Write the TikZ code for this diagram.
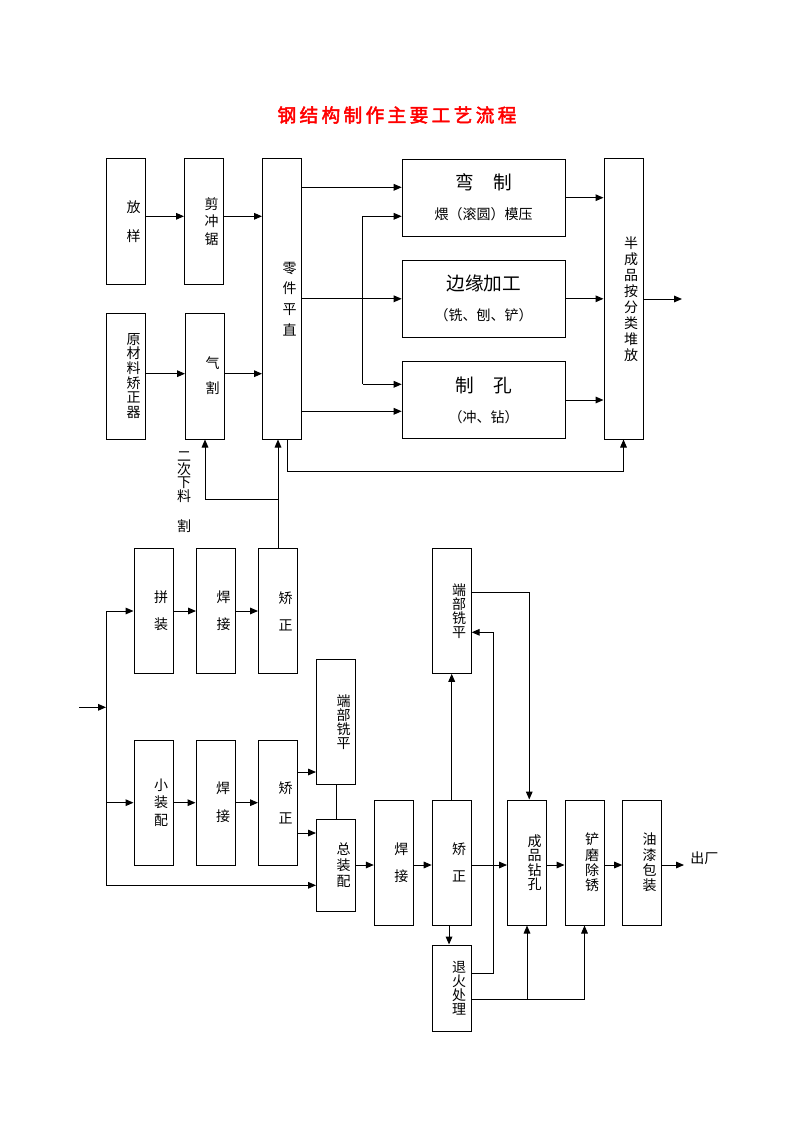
\documentclass[tikz,border=0pt]{standalone}
\usepackage{fontspec}
\usepackage{xcolor}
\usepackage{tikz}
\usetikzlibrary{calc,arrows.meta}
\newfontfamily\cjk{Noto Sans CJK SC}
\newfontfamily\cjktitle[LetterSpace=18, FakeBold=2.5]{Noto Sans CJK SC}
\definecolor{titlered}{HTML}{FF0000}
\definecolor{ink}{HTML}{000000}

\begin{document}
\begin{tikzpicture}[x=0.75pt, y=-0.75pt,
  col/.style={draw=ink, line width=0.75pt, inner xsep=3.75pt, inner ysep=0pt,
    text width=21.75pt, align=right, font=\cjk\fontsize{10.5}{#1}\selectfont},
  col/.default=10.5pt,
  tall/.style={minimum height=#1*0.75pt},
  wide/.style={draw=ink, line width=0.75pt, minimum width=122.25pt, minimum height=57.75pt,
    inner sep=0pt, align=center, font=\cjk\fontsize{14}{16}\selectfont},
  wire/.style={draw=ink, line width=0.75pt},
  arr/.style={wire, -{Triangle[length=6pt,width=5pt]}}]
\useasboundingbox (0,0) rectangle (794,1123);

\node[font=\cjktitle\fontsize{14}{16}\selectfont, text=titlered] (title) at (397,115) {钢结构制作主要工艺流程};

% upper part
\node[col=21.75pt, tall=125] (fangyang) at (126,221.5) {放\\样};
\node[col=13.1pt, tall=125] (jianchong) at (204,221.5) {剪\\冲\\锯};
\node[col=15.5pt, tall=280] (lingjian) at (282,299) {零\\件\\平\\直};
\node[col=11pt, tall=126] (yuancai) at (126,376) {原\\材\\料\\矫\\正\\器};
\node[col=18.75pt, tall=126] (qige) at (205,376) {气\\割};
\node[wide] (wanzhi) at (483.7,197.7) {弯　制\\[6.5pt]{\fontsize{10.5}{16}\selectfont 煨（滚圆）模压}};
\node[wide] (bianyuan) at (483.7,298.8) {边缘加工\\[6.5pt]{\fontsize{10.5}{16}\selectfont （铣、刨、铲）}};
\node[wide] (zhikong) at (483.7,400) {制　孔\\[6.5pt]{\fontsize{10.5}{16}\selectfont （冲、钻）}};
\node[col=12pt, tall=280] (banchengpin) at (623.5,299) {半\\成\\品\\按\\分\\类\\堆\\放};
\node[font=\cjk\fontsize{10.5}{8.5}\selectfont, align=center, inner sep=0pt] (erci) at (184,492) {二\\次\\下\\料\\[11.5pt]割};

\coordinate (yA) at (0,216.3);
\coordinate (yB) at (0,373.7);
\coordinate (yU) at (0,187.3);
\coordinate (yL) at (0,411.3);
\coordinate (brT) at (362.7,216.3);
\coordinate (brB) at (362.7,384.3);
\coordinate (outR) at (682,299);
\coordinate (yC) at (0,499.3);

\draw[arr] (fangyang.east |- yA) -- (yA -| jianchong.west);
\draw[arr] (jianchong.east |- yA) -- (yA -| lingjian.west);
\draw[arr] (yuancai.east |- yB) -- (yB -| qige.west);
\draw[arr] (qige.east |- yB) -- (yB -| lingjian.west);
\draw[arr] (lingjian.east |- yU) -- (yU -| wanzhi.west);
\draw[arr] (lingjian.east |- bianyuan.west) -- (bianyuan.west);
\draw[arr] (lingjian.east |- yL) -- (yL -| zhikong.west);
\draw[wire] (brT) -- (brB);
\draw[arr] (brT) -- (brT -| wanzhi.west);
\draw[arr] (brB) -- (brB -| zhikong.west);
\foreach \a in {wanzhi,bianyuan,zhikong}
  \draw[arr] (\a.east) -- (\a.east -| banchengpin.west);
\draw[arr] (banchengpin.east |- outR) -- (outR);
\draw[arr] ([xshift=3.75pt]lingjian.south) -- ++(0,32) -| (banchengpin.south);

% lower part
\node[col=20.25pt, tall=125] (pinzhuang) at (153.5,611) {拼\\装};
\node[col=20.25pt, tall=125] (hanjie1) at (216,611) {焊\\接};
\node[col=20.25pt, tall=125] (jiaozheng1) at (278,611) {矫\\正};
\node[col=13.1pt, tall=125] (xiaozhuang) at (153.5,802.7) {小\\装\\配};
\node[col=21pt, tall=125] (hanjie2) at (215.5,802.7) {焊\\接};
\node[col=22.5pt, tall=125] (jiaozheng2) at (278,802.7) {矫\\正};
\node[col=10.5pt, tall=125] (duanbuL) at (336,721.8) {端\\部\\铣\\平};
\node[col=12pt, tall=92] (zongzhuang) at (336,865) {总\\装\\配};
\node[col=20.25pt, tall=125] (hanjie3) at (393.8,862.5) {焊\\接};
\node[col=20.25pt, tall=125] (jiaozheng3) at (451.7,862.5) {矫\\正};
\node[col=10.5pt, tall=125] (duanbuR) at (451.7,610.8) {端\\部\\铣\\平};
\node[col=10.9pt, tall=125] (chengpin) at (527,862.5) {成\\品\\钻\\孔};
\node[col=11.6pt, tall=125] (chanmo) at (584.5,862.5) {铲\\磨\\除\\锈};
\node[col=11.6pt, tall=125] (youqi) at (642.2,862.5) {油\\漆\\包\\装};
\node[col=10.5pt, tall=86] (tuihuo) at (451.7,988) {退\\火\\处\\理};
\node[font=\cjk\fontsize{10.5}{12}\selectfont, inner xsep=4.5pt, anchor=west] (chuchang) at (684,858) {出厂};

\coordinate (entry) at (79,707.3);
\coordinate (trunk) at (106,707.3);
\coordinate (yE) at (0,885.3);
\coordinate (yF) at (0,772);
\coordinate (yG) at (0,833);
\coordinate (yH) at (0,592.3);
\coordinate (yM) at (0,865);
\coordinate (back) at (493.3,632.3);
\coordinate (upper) at ($(tuihuo.east)+(0,-15)$);
\coordinate (fork) at ($(tuihuo.east)+(0,11.3)$);

\draw[arr] (jiaozheng1.north) -- (jiaozheng1.north |- lingjian.south);
\draw[arr] (jiaozheng1.north |- yC) -| (qige.south);
\draw[arr] (entry) -- (trunk);
\draw[wire] (trunk |- pinzhuang.west) -- (trunk |- yE);
\draw[arr] (trunk |- pinzhuang.west) -- (pinzhuang.west);
\draw[arr] (trunk |- xiaozhuang.west) -- (xiaozhuang.west);
\draw[arr] (trunk |- yE) -- (yE -| zongzhuang.west);
\foreach \a/\b in {pinzhuang/hanjie1, hanjie1/jiaozheng1, xiaozhuang/hanjie2, hanjie2/jiaozheng2}
  \draw[arr] (\a.east) -- (\b.west);
\draw[arr] (jiaozheng2.east |- yF) -- (yF -| duanbuL.west);
\draw[arr] (jiaozheng2.east |- yG) -- (yG -| zongzhuang.west);
\draw[wire] (duanbuL.south) -- (zongzhuang.north);
\foreach \a/\b in {zongzhuang/hanjie3, hanjie3/jiaozheng3, jiaozheng3/chengpin, chengpin/chanmo, chanmo/youqi}
  \draw[arr] (\a.east |- yM) -- (yM -| \b.west);
\draw[arr] (youqi.east |- yM) -- (yM -| chuchang.west);
\draw[arr] (jiaozheng3.north) -- (duanbuR.south);
\draw[arr] (duanbuR.east |- yH) -| ([xshift=1.7pt]chengpin.north);
\draw[arr] ([xshift=-2pt]jiaozheng3.south) -- ([xshift=-2pt]tuihuo.north);
\draw[arr] (upper) -| (back) -- (back -| duanbuR.east);
\draw[arr] (fork) -| (chanmo.south);
\draw[arr] (fork -| chengpin.south) -- (chengpin.south);
\end{tikzpicture}
\end{document}
